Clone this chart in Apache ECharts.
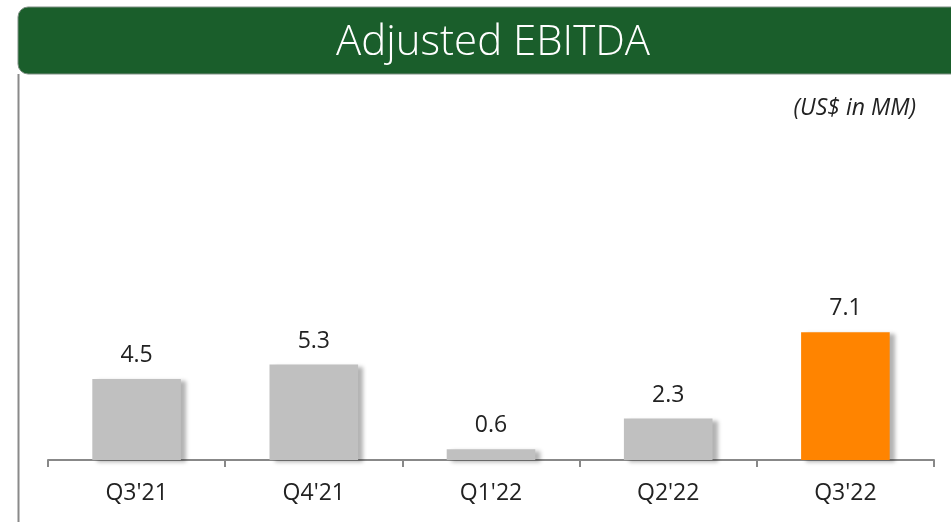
<!DOCTYPE html>
<html>
<head>
<meta charset="utf-8">
<script src="https://cdn.jsdelivr.net/npm/echarts@6/dist/echarts.min.js"></script>
<style>
  html, body { margin: 0; padding: 0; background: #fff; }
  #main { width: 951px; height: 522px; }
</style>
</head>
<body>
<div id="main"></div>
<script>
// data
var categories = ["Q3'21", "Q4'21", "Q1'22", "Q2'22", "Q3'22"];
var ebitda = [4.5, 5.3, 0.6, 2.3, 7.1];
var barColors = ['#c0c0c0', '#c0c0c0', '#c0c0c0', '#c0c0c0', '#ff8400'];

var myChart = echarts.init(document.getElementById('main'));

myChart.setOption({
    animation: false,
    textStyle: { fontFamily: 'Open Sans' },
    title: [{
        text: 'Adjusted EBITDA',
        left: 488,
        top: 17,
        textAlign: 'center',
        textStyle: { color: '#fff', fontSize: 42, fontWeight: 300, fontFamily: 'Open Sans' }
    }, {
        text: '(US$ in MM)',
        right: 30,
        top: 92,
        textStyle: { color: '#222', fontSize: 23, fontWeight: 'normal', fontStyle: 'italic', fontFamily: 'Open Sans' }
    }],
    graphic: [{
        type: 'rect',
        z: -1,
        shape: { x: 18, y: 7, width: 960, height: 67, r: 10 },
        style: { fill: '#1a5e2b', stroke: '#7f8f84', lineWidth: 1 }
    }, {
        type: 'line',
        shape: { x1: 18.5, y1: 74, x2: 18.5, y2: 522 },
        style: { stroke: '#8a8a8a', lineWidth: 2 }
    }],
    grid: { left: 48, right: 17, top: 280, bottom: 62 },
    xAxis: {
        type: 'category',
        data: categories,
        axisLine: { lineStyle: { color: '#888', width: 2 } },
        axisTick: { show: true, length: 7, lineStyle: { color: '#888', width: 2 } },
        axisLabel: { color: '#222', fontSize: 23, margin: 22 }
    },
    yAxis: {
        type: 'value',
        min: 0,
        max: 10,
        show: false,
        splitLine: { show: false }
    },
    series: [{
        type: 'bar',
        barWidth: '50%',
        data: ebitda.map(function (v, i) {
            return { value: v, itemStyle: { color: barColors[i] } };
        }),
        itemStyle: {
            shadowColor: 'rgba(0,0,0,0.3)',
            shadowBlur: 4,
            shadowOffsetX: 5,
            shadowOffsetY: 2
        },
        label: {
            show: true,
            position: 'top',
            distance: 12,
            color: '#222',
            fontSize: 23,
            formatter: function (p) { return p.value.toFixed(1); }
        }
    }]
});
</script>
</body>
</html>
